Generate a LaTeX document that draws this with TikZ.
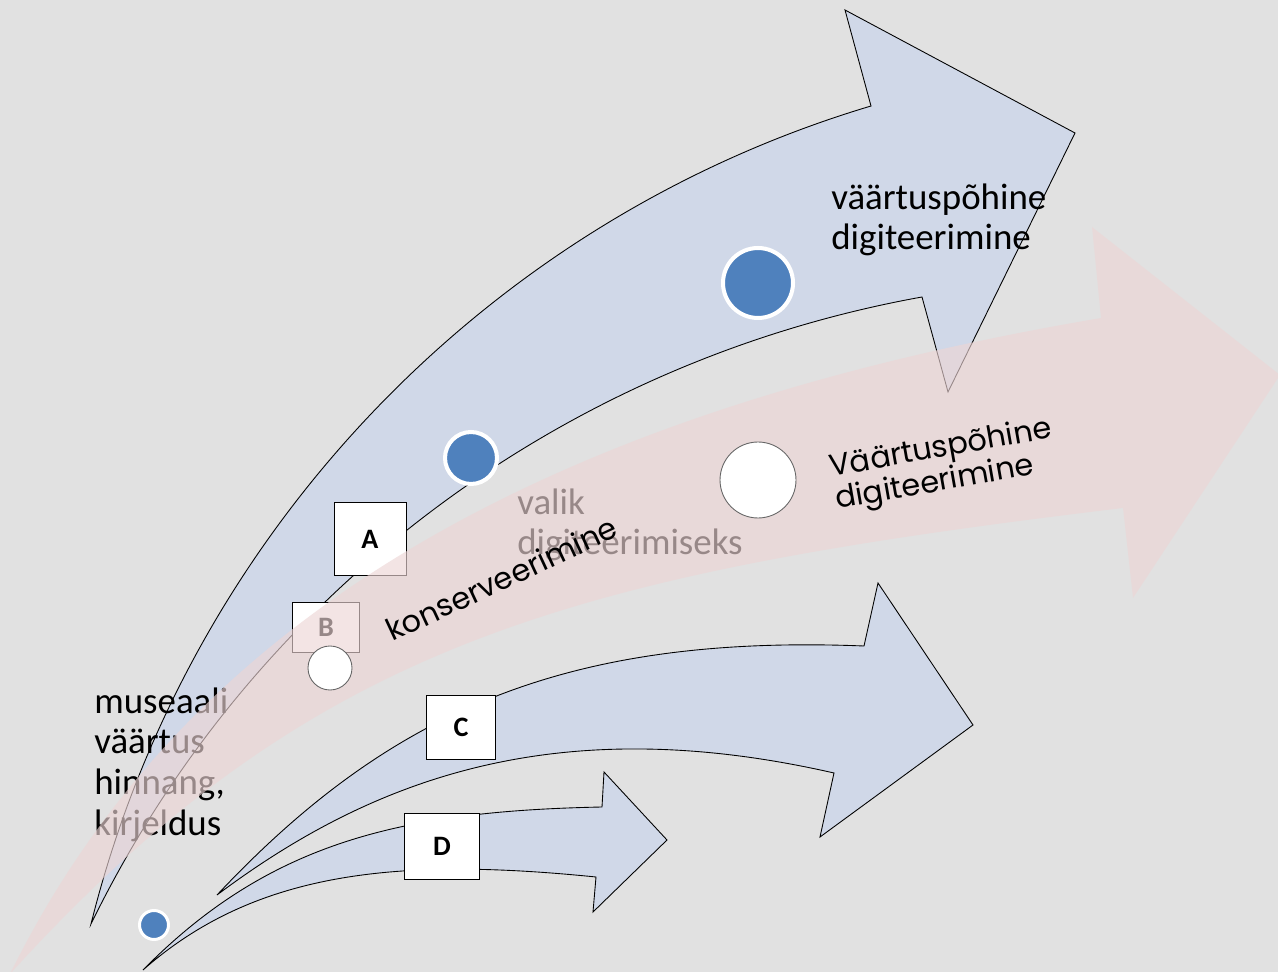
\documentclass[tikz,border=0pt]{standalone}
\usepackage{fontspec}
\setmainfont{Carlito}
\newfontfamily\gothic{Poppins}

\definecolor{bgGray}{RGB}{225,225,225}
\definecolor{arrowBlue}{RGB}{208,216,232}
\definecolor{arrowPink}{RGB}{237,213,213}
\definecolor{dotBlue}{RGB}{79,129,189}

\begin{document}
\begin{tikzpicture}[x=0.02cm, y=-0.02cm,
    bluearrow/.style={draw=black, line width=0.5pt, fill=arrowBlue},
    pinkarrow/.style={fill=arrowPink, fill opacity=0.64},
    box/.style={draw=black, line width=0.5pt, fill=white, inner sep=0pt, font=\fontsize{16pt}{18pt}\selectfont\bfseries},
    dot/.style={circle, fill=dotBlue, draw=white, inner sep=0pt},
    hole/.style={circle, fill=white, draw=black!60, line width=0.5pt, inner sep=0pt},
    words/.style={align=left, inner sep=0pt, anchor=base west, font=\fontsize{21pt}{23.1pt}\selectfont},
    tilted/.style={align=left, inner sep=0pt, anchor=base west, font=\gothic\fontsize{17.3pt}{18.7pt}\selectfont}]
    \useasboundingbox (0,0) rectangle (1278,972);
    \fill[bgGray] (0,0) rectangle (1278,972);
    \clip (0,0) rectangle (1278,972);

    %Big arrow
    \draw[bluearrow] (91,924) .. controls (188,534) and (486,221) .. (871,106) -- (845,10) -- (1075,133)
        -- (948,392) -- (922,297) .. controls (561,362) and (252,594) .. (91,924) -- cycle;

    %Nodes under the band
    \node[box, minimum width=1.44cm, minimum height=1.46cm] at (370,539) (a) {A};
    \node[box, minimum width=1.34cm, minimum height=1cm] at (326,627) (b) {B};
    \node[words] at (94,835) (museaal) {museaali\\väärtus\\hinnang,\\kirjeldus};
    \node[words] at (517,555) (valik) {valik\\digiteerimiseks};

    %Band
    \fill[pinkarrow] (10,974) .. controls (198,592) and (588,405) .. (1101,318) -- (1092,227) -- (1280,375)
        -- (1133,598) -- (1123,508) .. controls (576,574) and (314,639) .. (10,974) -- cycle;

    %Small arrows
    \draw[bluearrow] (217,895) .. controls (388,713) and (564,634) .. (864,646) -- (878,583) -- (973,725)
        -- (820,837) -- (834,773) .. controls (562,711) and (377,775) .. (217,895) -- cycle;
    \draw[bluearrow] (143,970) .. controls (269,842) and (402,811) .. (602,807) -- (604,772) -- (667,840)
        -- (593,912) -- (596,877) .. controls (398,857) and (255,871) .. (143,970) -- cycle;
    \node[box, minimum width=1.38cm, minimum height=1.28cm] at (461,727) (c) {C};
    \node[box, minimum width=1.5cm, minimum height=1.32cm] at (442,846) (d) {D};

    %Dots
    \node[dot, minimum size=1.4cm, line width=2.3pt] at (758,283) (dotbig) {};
    \node[dot, minimum size=1.04cm, line width=2.3pt] at (471,458) (dotmid) {};
    \node[dot, minimum size=0.58cm, line width=1.7pt] at (154,925) (dotsmall) {};
    \node[hole, minimum size=1.52cm] at (758,480) (holebig) {};
    \node[hole, minimum size=0.88cm] at (330,668) (holesmall) {};

    %Text
    \node[words] at (831,250) (vaartus) {väärtuspõhine\\digiteerimine};
    \node[tilted, rotate=25] at (392,642) (konserv) {konserveerimine};
    \node[tilted, rotate=10] at (837,509) (vaartusdig) {Väärtuspõhine\\digiteerimine};
\end{tikzpicture}
\end{document}
